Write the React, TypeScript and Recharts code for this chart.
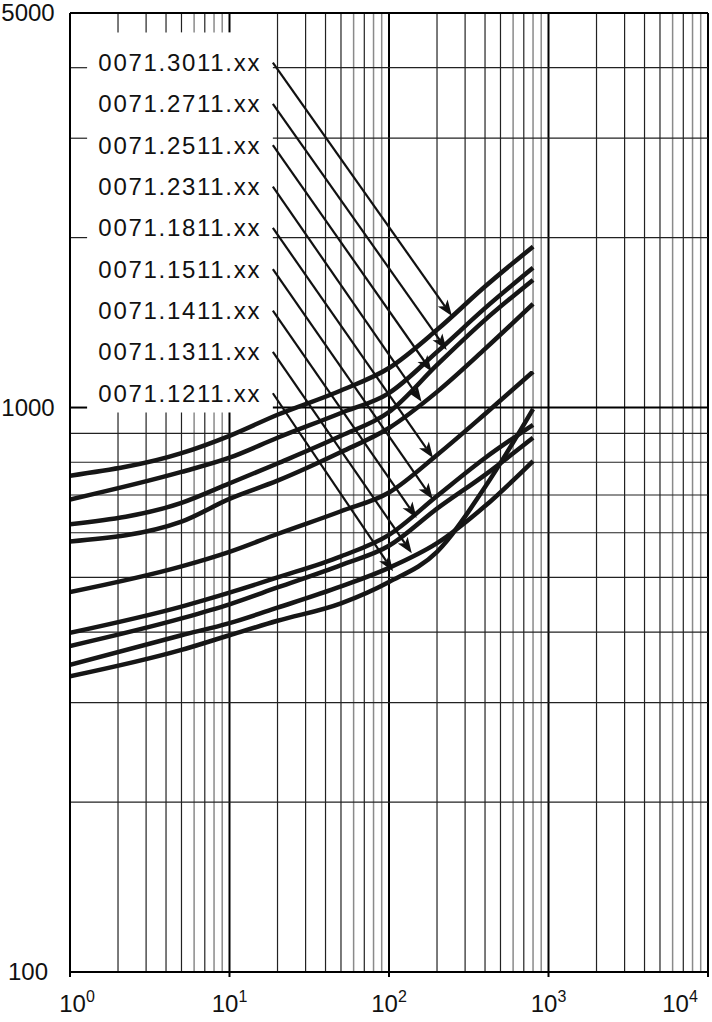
import React from "react";
import { LineChart, Line, XAxis, YAxis, ReferenceLine } from "recharts";

const FONT = '"Liberation Sans", Arial, Helvetica, sans-serif';

const xValues = [1, 5, 10, 20, 50, 100, 200, 400, 800];

// one array per fuse type, top curve first
const s3011 = [757, 830, 891, 971, 1072, 1175, 1373, 1638, 1928];
const s2711 = [687, 769, 815, 884, 978, 1061, 1255, 1500, 1768];
const s2511 = [621, 678, 734, 796, 891, 982, 1190, 1430, 1683];
const s2311 = [579, 628, 689, 742, 834, 920, 1066, 1270, 1526];
const s1811 = [471, 523, 555, 597, 655, 707, 824, 974, 1157];
const s1511 = [399, 444, 470, 500, 545, 595, 697, 814, 932];
const s1411 = [378, 423, 448, 480, 526, 569, 662, 760, 884];
const s1311 = [350, 395, 415, 442, 482, 520, 575, 669, 804];
const s1211 = [334, 372, 395, 419, 450, 491, 555, 723, 994];

const partNumbers = [
  "0071.3011.xx",
  "0071.2711.xx",
  "0071.2511.xx",
  "0071.2311.xx",
  "0071.1811.xx",
  "0071.1511.xx",
  "0071.1411.xx",
  "0071.1311.xx",
  "0071.1211.xx",
];
const seriesValues = [s3011, s2711, s2511, s2311, s1811, s1511, s1411, s1311, s1211];

// leader arrows: from the label column to the curve
const arrowStartX = 18.7;
const arrowStartY = [4083, 3451, 2916, 2463, 2081, 1758, 1485, 1255, 1060];
const arrowTipX = [248, 230, 185, 160, 189, 188, 149, 139, 106];
const arrowTipY = [1452, 1265, 1158, 1024, 814, 688, 637, 552, 513];

// white label panel that hides the grid behind the part numbers
const labelBox = { x1: 1.28, x2: 18.7, y1: 980, y2: 4620 };

const xTicks = [1, 10, 100, 1000, 10000];
const yTicks = [100, 1000, 5000];
const X_MIN = 1;
const X_MAX = 10000;
const Y_MIN = 100;
const Y_MAX = 5000;

const rows = xValues.map((x, i) => {
  const row: Record<string, number> = { x };
  partNumbers.forEach((p, k) => {
    row[p] = seriesValues[k][i];
  });
  return row;
});

// grid values: 1..9 per decade
const xGrid: number[] = [];
for (let d = 1; d <= 1000; d *= 10) {
  for (let m = 1; m <= 9; m++) xGrid.push(m * d);
}
xGrid.push(10000);
const yGrid: number[] = [];
for (let d = 100; d <= 1000; d *= 10) {
  for (let m = 1; m <= 9; m++) if (m * d <= 5000) yGrid.push(m * d);
}

const gridStyle = (v: number) => {
  const m = Math.round(v / Math.pow(10, Math.floor(Math.log10(v) + 1e-9)));
  if (m === 1) return { stroke: "#000", strokeWidth: 2 };
  if (m === 6 || m === 8 || m === 9) return { stroke: "#8a8a8a", strokeWidth: 1.5 };
  return { stroke: "#222", strokeWidth: 1.2 };
};

const XTick = (props: any) => {
  const { x, payload } = props;
  const exp = Math.round(Math.log10(payload.value));
  const shift = exp === 0 ? 7 : exp === 4 ? -12 : 0;
  return (
    <text x={x + shift} y={1012} textAnchor="middle" fontSize={24} fill="#111" fontFamily={FONT}>
      <tspan>10</tspan>
      <tspan dy={-10} fontSize={16}>
        {exp}
      </tspan>
    </text>
  );
};

const YTick = (props: any) => {
  const { y, payload } = props;
  return (
    <text x={28} y={y} dy="0.35em" textAnchor="middle" fontSize={24} fill="#111" fontFamily={FONT}>
      {payload.value}
    </text>
  );
};

const LeaderArrow = (props: any) => {
  const { x1, y1, x2, y2, text } = props;
  if (x1 == null || x2 == null) return null;
  const dx = x2 - x1;
  const dy = y2 - y1;
  const len = Math.sqrt(dx * dx + dy * dy);
  const ux = dx / len;
  const uy = dy / len;
  const headLen = 16;
  const half = 6;
  const bx = x2 - ux * headLen;
  const by = y2 - uy * headLen;
  const nx = x2 - ux * (headLen - 4);
  const ny = y2 - uy * (headLen - 4);
  const head = [
    `${x2},${y2}`,
    `${bx - uy * half},${by + ux * half}`,
    `${nx},${ny}`,
    `${bx + uy * half},${by - ux * half}`,
  ].join(" ");
  return (
    <g>
      <line x1={x1} y1={y1} x2={nx} y2={ny} stroke="#111" strokeWidth={2.2} />
      <polygon points={head} fill="#111" />
      <text
        x={x1 - 174.5}
        y={y1 + 8.5}
        fontSize={24}
        letterSpacing={1.7}
        fill="#111"
        fontFamily={FONT}
      >
        {text}
      </text>
    </g>
  );
};

const gridLines = () => {
  const out: React.ReactNode[] = [];
  xGrid.forEach((v, i) => {
    const st = gridStyle(v);
    if (v > labelBox.x1 && v < labelBox.x2) {
      out.push(
        <ReferenceLine
          key={`vx${i}a`}
          segment={[{ x: v, y: Y_MIN }, { x: v, y: labelBox.y1 }]}
          {...st}
        />
      );
      out.push(
        <ReferenceLine
          key={`vx${i}b`}
          segment={[{ x: v, y: labelBox.y2 }, { x: v, y: Y_MAX }]}
          {...st}
        />
      );
    } else {
      out.push(<ReferenceLine key={`vx${i}`} x={v} {...st} />);
    }
  });
  yGrid.forEach((v, i) => {
    const st = v === 1000 ? { stroke: "#000", strokeWidth: 2 } : { stroke: "#222", strokeWidth: 1.2 };
    if (v > labelBox.y1 && v < labelBox.y2) {
      out.push(
        <ReferenceLine
          key={`hy${i}a`}
          segment={[{ x: X_MIN, y: v }, { x: labelBox.x1, y: v }]}
          {...st}
        />
      );
      out.push(
        <ReferenceLine
          key={`hy${i}b`}
          segment={[{ x: labelBox.x2, y: v }, { x: X_MAX, y: v }]}
          {...st}
        />
      );
    } else {
      out.push(<ReferenceLine key={`hy${i}`} y={v} {...st} />);
    }
  });
  return out;
};

export default function App() {
  return (
    <div style={{ position: "absolute", left: 0, top: 0, background: "#fff" }}>
      <LineChart
        width={712}
        height={1022}
        data={rows}
        margin={{ top: 13, right: 4, bottom: 0, left: 0 }}
      >
        <XAxis
          dataKey="x"
          type="number"
          scale="log"
          domain={[X_MIN, X_MAX]}
          ticks={xTicks}
          allowDataOverflow
          height={50}
          tickSize={5}
          tickLine={{ stroke: "#000", strokeWidth: 2 }}
          axisLine={{ stroke: "#000", strokeWidth: 2 }}
          tick={<XTick />}
        />
        <YAxis
          type="number"
          scale="log"
          domain={[Y_MIN, Y_MAX]}
          ticks={yTicks}
          allowDataOverflow
          width={70}
          tickLine={false}
          axisLine={{ stroke: "#000", strokeWidth: 2 }}
          tick={<YTick />}
        />
        {gridLines()}
        <ReferenceLine y={Y_MAX} stroke="#000" strokeWidth={2} />
        {partNumbers.map((p) => (
          <Line
            key={p}
            dataKey={p}
            type="monotone"
            stroke="#161616"
            strokeWidth={4.5}
            dot={false}
            activeDot={false}
            isAnimationActive={false}
          />
        ))}
        {partNumbers.map((p, i) => (
          <ReferenceLine
            key={`arrow${p}`}
            segment={[
              { x: arrowStartX, y: arrowStartY[i] },
              { x: arrowTipX[i], y: arrowTipY[i] },
            ]}
            shape={(props: any) => <LeaderArrow {...props} text={p} />}
          />
        ))}
      </LineChart>
    </div>
  );
}
